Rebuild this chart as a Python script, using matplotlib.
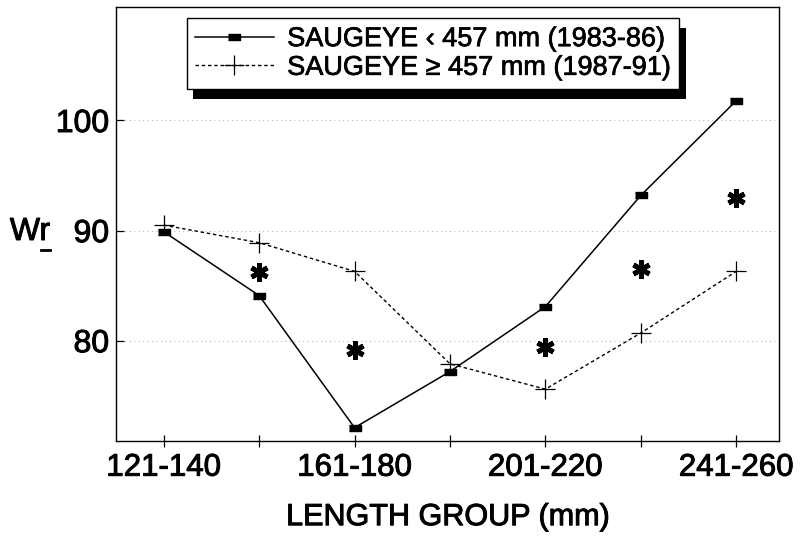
import matplotlib
matplotlib.use('Agg')
from matplotlib import pyplot as plt
from matplotlib import patheffects
from matplotlib.lines import Line2D

plt.rcParams['font.family'] = ['Liberation Sans', 'DejaVu Sans']

# length groups (mm), only every other one is labelled on the axis
length_groups = ['121-140', '141-160', '161-180', '181-200', '201-220', '221-240', '241-260']
# relative weight, small saugeye period (1983-86)
wr_small = [89.9, 84.1, 72.1, 77.2, 83.1, 93.2, 101.8]
# relative weight, large saugeye period (1987-91)
wr_large = [90.5, 88.9, 86.3, 77.9, 75.6, 80.7, 86.3]
# significant differences (asterisks)
star_groups = ['141-160', '161-180', '201-220', '221-240', '241-260']
star_values = [86.2, 79.2, 79.4, 86.5, 93.0]

x = list(range(len(length_groups)))
star_x = [length_groups.index(g) for g in star_groups]

# slightly heavier text, like the scanned original
heavy = [patheffects.withStroke(linewidth=0.7, foreground='black')]

fig = plt.figure(figsize=(8, 5.45), dpi=100)
ax = fig.add_axes([0.145, 0.191, 0.829, 0.796])

# faint dotted grid at the y ticks
for yv in [80, 90, 100]:
    ax.axhline(yv, color='0.72', linestyle=(0, (1, 3)), linewidth=0.8, zorder=0)

rect = [(-1, -0.55), (1, -0.55), (1, 0.55), (-1, 0.55)]
ax.plot(x, wr_small, color='black', linewidth=1.1, marker=rect, markersize=8.5,
        label='SAUGEYE \u2039 457 mm (1983-86)')
ax.plot(x, wr_large, color='black', linewidth=1.0, linestyle=(0, (2.5, 2)),
        marker='+', markersize=15, markeredgewidth=0.9,
        label='SAUGEYE \u2265 457 mm (1987-91)')
ax.plot(star_x, star_values, linestyle='none', marker=(6, 2, 0), markersize=13,
        markeredgewidth=3.5, color='black')

ax.set_xlim(-0.5, 6.45)
ax.set_ylim(70.9, 110.3)
ax.set_xticks(x)
ax.set_xticklabels([g if i % 2 == 0 else '' for i, g in enumerate(length_groups)])
ax.set_yticks([80, 90, 100])

ax.tick_params(axis='x', direction='inout', length=9, width=0.9, labelsize=22.5, pad=4)
ax.tick_params(axis='y', direction='in', length=6, width=0.9, labelsize=23, pad=5)
for lab in ax.get_xticklabels() + ax.get_yticklabels():
    lab.set_path_effects(heavy)
for sp in ax.spines.values():
    sp.set_linewidth(1.0)

ax.set_xlabel('LENGTH GROUP (mm)', fontsize=22, labelpad=14, path_effects=heavy)

# y label "Wr" with the r underlined
fig.text(30 / 800, 1 - 232 / 545, 'Wr', fontsize=23, ha='center', va='center',
         path_effects=heavy)
fig.add_artist(Line2D([41 / 800, 50 / 800], [1 - 250 / 545, 1 - 250 / 545],
                      color='black', linewidth=2.0, transform=fig.transFigure))

leg = ax.legend(loc='upper left', bbox_to_anchor=(187 / 800, 1 - 18 / 545),
                bbox_transform=fig.transFigure, borderaxespad=0, fancybox=False,
                edgecolor='black', framealpha=1, fontsize=19.5, handlelength=2.9,
                handletextpad=0.5, borderpad=0.3, labelspacing=0.1)
leg.get_frame().set_linewidth(1.0)
leg.get_frame().set_path_effects([
    patheffects.SimplePatchShadow(offset=(4.5, -7), shadow_rgbFace='black', alpha=1),
    patheffects.Normal()])
for t in leg.get_texts():
    t.set_path_effects([patheffects.withStroke(linewidth=0.5, foreground='black')])

plt.savefig('out.png', dpi=100)
plt.close(fig)
